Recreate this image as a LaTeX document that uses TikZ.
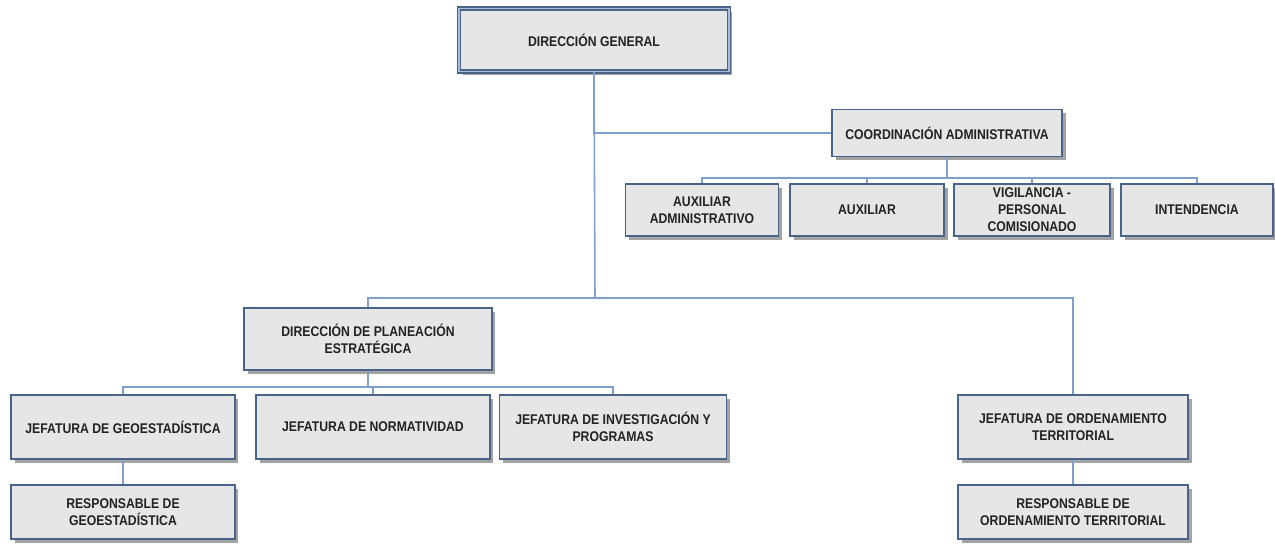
\documentclass[tikz,border=0pt]{standalone}
\usepackage{fontspec}
\setmainfont{Liberation Sans}
\newfontfamily\narrowfont[FakeStretch=0.87]{Liberation Sans}
\usetikzlibrary{shadows}

\definecolor{boxfill}{HTML}{E6E6E6}
\definecolor{boxline}{HTML}{4A6489}
\definecolor{linkblue}{HTML}{7F9FCC}
\definecolor{gapblue}{HTML}{A9BDD9}
\definecolor{txt}{HTML}{222222}

\tikzset{
  unit/.style={draw=boxline, fill=boxfill, line width=0.7pt, align=center,
    text=txt, inner sep=2pt,
    font=\narrowfont\bfseries\fontsize{8}{9.6}\selectfont,
    drop shadow={shadow xshift=2pt, shadow yshift=-2pt, fill=gray!80, opacity=0.9}},
  link/.style={draw=linkblue, line width=0.9pt},
}

\begin{document}
\begin{tikzpicture}[x=0.02cm, y=-0.02cm]
\useasboundingbox (0,0) rectangle (1275,546);

% top
\node[unit, line width=0.6pt, double=gapblue, double distance=1.1pt, minimum width=5.4cm, minimum height=1.26cm] (dg) at (594,40) {DIRECCIÓN GENERAL};
\node[unit, minimum width=4.6cm, minimum height=0.94cm] (coord) at (947,133) {COORDINACIÓN ADMINISTRATIVA};

% coordinacion
\node[unit, minimum width=3.06cm, minimum height=1.04cm] (auxadm) at (702,210) {AUXILIAR\\ADMINISTRATIVO};
\node[unit, minimum width=3.08cm, minimum height=1.04cm] (aux) at (867,210) {AUXILIAR};
\node[unit, minimum width=3.12cm, minimum height=1.04cm] (vig) at (1032,210) {VIGILANCIA -\\PERSONAL\\COMISIONADO};
\node[unit, minimum width=3.04cm, minimum height=1.04cm] (int) at (1197,210) {INTENDENCIA};

% planeacion
\node[unit, minimum width=4.96cm, minimum height=1.24cm] (dpe) at (368,339) {DIRECCIÓN DE PLANEACIÓN\\ESTRATÉGICA};
\node[unit, minimum width=4.48cm, minimum height=1.28cm] (geo) at (123,427) {JEFATURA DE GEOESTADÍSTICA};
\node[unit, minimum width=4.68cm, minimum height=1.28cm] (norm) at (373,427) {JEFATURA DE NORMATIVIDAD};
\node[unit, minimum width=4.54cm, minimum height=1.28cm] (inv) at (613,427) {JEFATURA DE INVESTIGACIÓN Y\\PROGRAMAS};
\node[unit, minimum width=4.48cm, minimum height=1.08cm] (rgeo) at (123,512) {RESPONSABLE DE\\GEOESTADÍSTICA};

% ordenamiento
\node[unit, minimum width=4.6cm, minimum height=1.28cm] (ord) at (1073,427) {JEFATURA DE ORDENAMIENTO\\TERRITORIAL};
\node[unit, minimum width=4.6cm, minimum height=1.08cm] (rord) at (1073,512) {RESPONSABLE DE\\ORDENAMIENTO TERRITORIAL};

\coordinate (trunk) at (595,298);
\coordinate (cbar) at (947,178);
\coordinate (pbar) at (368,387);

\draw[link] (dg.south) |- (coord.west);
\draw[link] (dg.south) -- (trunk);
\draw[link] (trunk) -| (dpe.north);
\draw[link] (trunk) -| (ord.north);

\draw[link] (coord.south) -- (cbar);
\draw[link] (cbar) -| (auxadm.north);
\draw[link] (cbar) -| (aux.north);
\draw[link] (cbar) -| (vig.north);
\draw[link] (cbar) -| (int.north);

\draw[link] (dpe.south) -- (pbar);
\draw[link] (pbar) -| (geo.north);
\draw[link] (pbar) -| (norm.north);
\draw[link] (pbar) -| (inv.north);

\draw[link] (geo.south) -- (rgeo.north);
\draw[link] (ord.south) -- (rord.north);
\end{tikzpicture}
\end{document}
